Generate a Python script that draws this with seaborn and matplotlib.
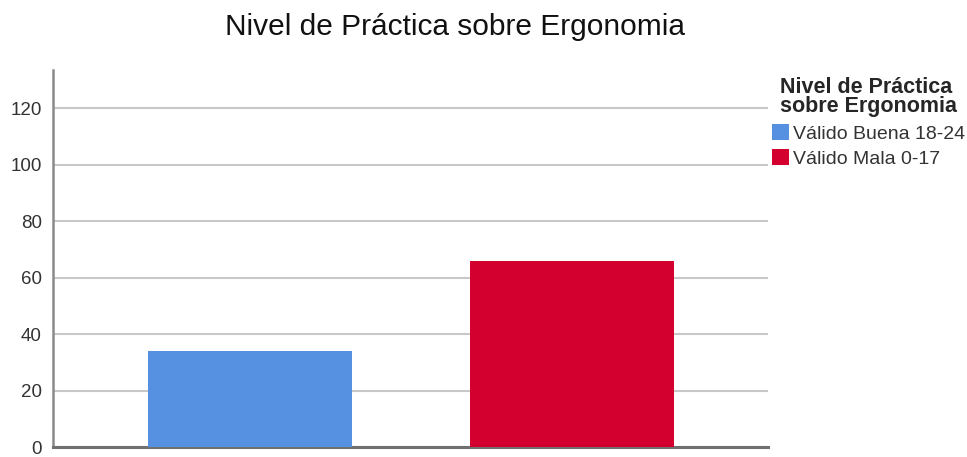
import matplotlib
matplotlib.use("Agg")
import matplotlib.pyplot as plt
import seaborn as sns
import pandas as pd

categories = ["Válido Buena 18-24", "Válido Mala 0-17"]
values = [34, 66]
colors = ["#5591E0", "#D3002F"]
title = "Nivel de Práctica sobre Ergonomia"
legend_title = "Nivel de Práctica\nsobre Ergonomia"
yticks = [0, 20, 40, 60, 80, 100, 120]

sns.set_theme(style="white")
plt.rcParams["font.family"] = ["Liberation Sans", "DejaVu Sans"]

df = pd.DataFrame({"cat": categories, "val": values})

fig = plt.figure(figsize=(9.67, 4.57), dpi=100)
ax = fig.add_axes([53 / 967, 10 / 457, 715 / 967, 377 / 457])

sns.barplot(data=df, x="cat", y="val", hue="cat", palette=colors,
            width=0.634, ax=ax, legend=True, saturation=1, zorder=3,
            linewidth=0, edgecolor="none")

ax.set_xlim(-0.612, 1.609)
ax.set_ylim(0, 133.5)
ax.set_yticks(yticks)
ax.set_yticklabels([str(t) for t in yticks], fontsize=13.5, color="#333333")
ax.set_xticks([])
ax.set_xlabel("")
ax.set_ylabel("")
ax.yaxis.grid(True, color="#c8c8c8", linewidth=1.5, zorder=0)
ax.set_axisbelow(True)
ax.tick_params(axis="y", length=0, pad=8)
for s in ["top", "right"]:
    ax.spines[s].set_visible(False)
ax.spines["left"].set_color("#8a8a8a")
ax.spines["left"].set_linewidth(1.8)
ax.spines["bottom"].set_color("#707070")
ax.spines["bottom"].set_linewidth(2.2)

handles, labels = ax.get_legend_handles_labels()
leg = ax.legend(handles, labels, title=legend_title, loc="upper left",
                bbox_to_anchor=(772 / 967, 1 - 77 / 457),
                bbox_transform=fig.transFigure, frameon=False,
                fontsize=14, handlelength=0.85, handleheight=0.85,
                handletextpad=0.25, labelspacing=0.35, borderpad=0,
                borderaxespad=0)
leg.get_title().set_fontweight("bold")
leg.get_title().set_fontsize(15.5)
leg.get_title().set_linespacing(0.9)
for t in leg.get_texts():
    t.set_color("#333333")

fig.text(455 / 967, 1 - 35 / 457, title, ha="center", va="baseline",
         fontsize=21.5, color="#111111")

fig.savefig("out.png", dpi=100)
